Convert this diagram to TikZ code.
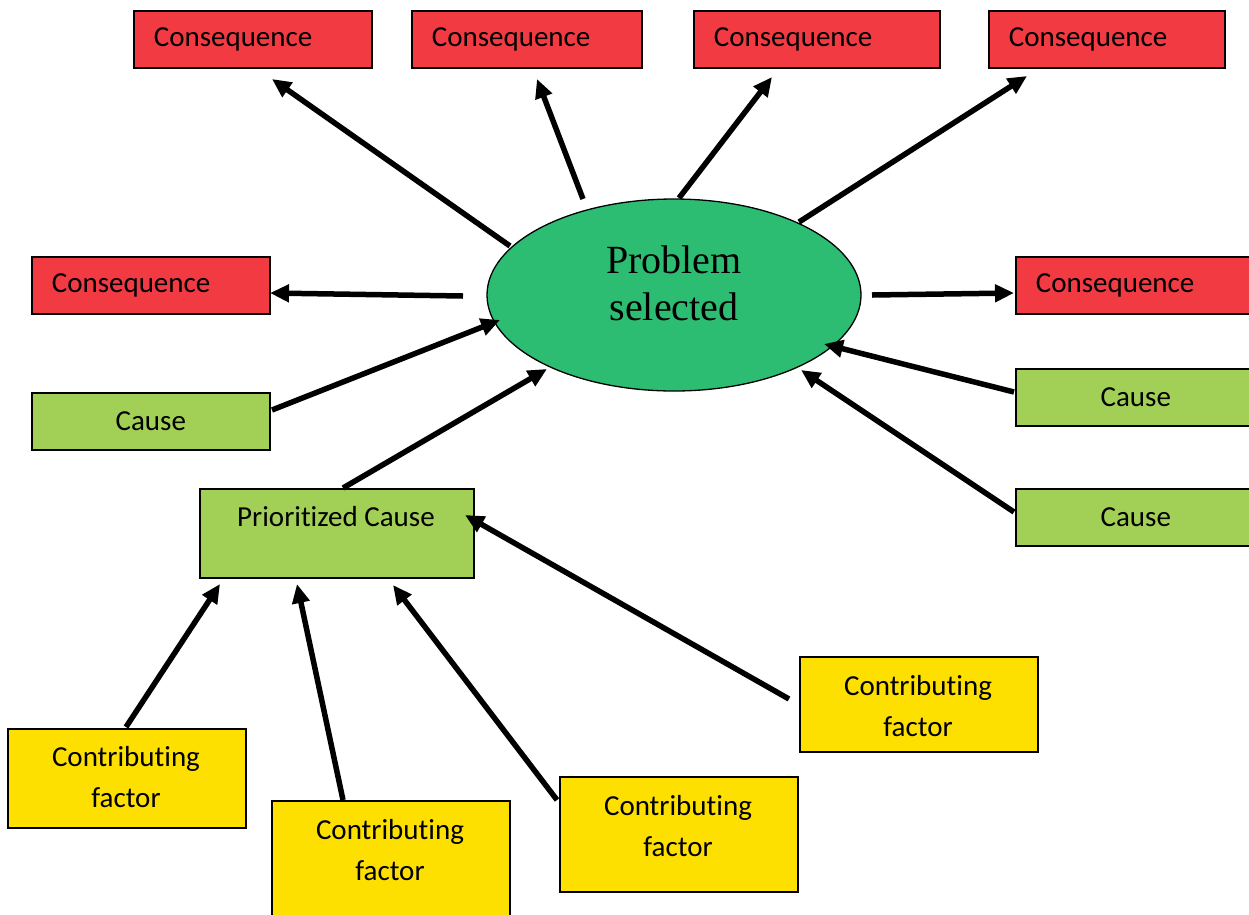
\documentclass[tikz,border=0pt]{standalone}
\usepackage{fontspec}
\setmainfont{Carlito}[RawFeature=-liga]
\newfontfamily\headfont{Liberation Serif}
\usetikzlibrary{shapes.geometric,arrows.meta}
\definecolor{conred}{HTML}{F23A43}
\definecolor{causegreen}{HTML}{A2CF56}
\definecolor{probgreen}{HTML}{2CBD73}
\definecolor{factyellow}{HTML}{FDE000}
\tikzset{
  boxfont/.style={font=\fontsize{29}{41}\selectfont},
  basebox/.style={draw=black, line width=1.6pt, rectangle, anchor=north west,
    boxfont, inner sep=0pt},
  conbox/.style={basebox, fill=conred, minimum height=57pt,
    text width=198pt, inner xsep=20pt, align=left},
  causebox/.style={basebox, fill=causegreen, minimum width=238pt, minimum height=57pt},
  factbox/.style={basebox, fill=factyellow, minimum width=238pt},
  boxtext/.style={boxfont, align=center, inner sep=0pt},
  arr/.style={line width=5.5pt, -{Triangle[length=19pt,width=17pt]}},
}
\begin{document}
\begin{tikzpicture}[x=1pt,y=-1pt]
\useasboundingbox (0,0) rectangle (1249,914);

% central problem
\node[ellipse, draw=black, line width=1.3pt, fill=probgreen,
      minimum width=374pt, minimum height=192pt] (prob) at (674,295) {};
\node[font=\headfont\fontsize{40}{47}\selectfont, align=center] (ptext) at (674,283) {Problem\\selected};

% consequences
\node[conbox] (c1) at (133,10) {Consequence};
\node[conbox, text width=190pt] (c2) at (411,10) {Consequence};
\node[conbox, text width=206pt] (c3) at (693,10) {Consequence};
\node[conbox, text width=196pt] (c4) at (988,10) {Consequence};
\node[conbox] (c5) at (31,256) {Consequence};
\node[conbox, text width=200pt] (c6) at (1015,256) {Consequence};

% causes
\node[causebox] (k1) at (31,392) {Cause};
\node[causebox, minimum width=240pt] (k2) at (1015,368) {Cause};
\node[causebox, minimum width=240pt] (k3) at (1015,488) {Cause};
\node[causebox, minimum width=274pt, minimum height=89pt] (pc) at (199,488) {};
\node[boxtext] (pctext) at (336,517) {Prioritized Cause};

% contributing factors
\node[factbox, minimum height=99pt] (f1) at (7,728) {};
\node[factbox, minimum height=115pt] (f2) at (271,800) {};
\node[factbox, minimum height=115pt] (f3) at (559,776) {};
\node[factbox, minimum height=95pt] (f4) at (799,656) {};
\node[boxtext] (f1t) at (126,777) {Contributing\\factor};
\node[boxtext] (f2t) at (390,850) {Contributing\\factor};
\node[boxtext] (f3t) at (678,826) {Contributing\\factor};
\node[boxtext] (f4t) at (918,706) {Contributing\\factor};

% connector end points
\coordinate (a1s) at (510,246);  \coordinate (a1e) at (272,79);
\coordinate (a2s) at (583,199);  \coordinate (a2e) at (537,79);
\coordinate (a3s) at (679,198);  \coordinate (a3e) at (772,77);
\coordinate (a4s) at (799,222);  \coordinate (a4e) at (1027,76);
\coordinate (a5s) at (463,296);  \coordinate (a5e) at (270,293);
\coordinate (a6s) at (872,295);  \coordinate (a6e) at (1014,293);
\coordinate (b1s) at (272,410);  \coordinate (b1e) at (500,320);
\coordinate (b2s) at (343,488);  \coordinate (b2e) at (547,369);
\coordinate (b3s) at (1014,392); \coordinate (b3e) at (824,344);
\coordinate (b4s) at (1014,512); \coordinate (b4e) at (801,370);
\coordinate (d1s) at (126,727);  \coordinate (d1e) at (220,584);
\coordinate (d2s) at (343,800);  \coordinate (d2e) at (297,584);
\coordinate (d3s) at (557,800);  \coordinate (d3e) at (393,585);
\coordinate (d4s) at (789,699);  \coordinate (d4e) at (465,515);

% problem -> consequences
\draw[arr] (a1s) -- (a1e);
\draw[arr] (a2s) -- (a2e);
\draw[arr] (a3s) -- (a3e);
\draw[arr] (a4s) -- (a4e);
\draw[arr] (a5s) -- (a5e);
\draw[arr] (a6s) -- (a6e);
% causes -> problem
\draw[arr] (b1s) -- (b1e);
\draw[arr] (b2s) -- (b2e);
\draw[arr] (b3s) -- (b3e);
\draw[arr] (b4s) -- (b4e);
% factors -> prioritized cause
\draw[arr] (d1s) -- (d1e);
\draw[arr] (d2s) -- (d2e);
\draw[arr] (d3s) -- (d3e);
\draw[arr] (d4s) -- (d4e);
\end{tikzpicture}
\end{document}
